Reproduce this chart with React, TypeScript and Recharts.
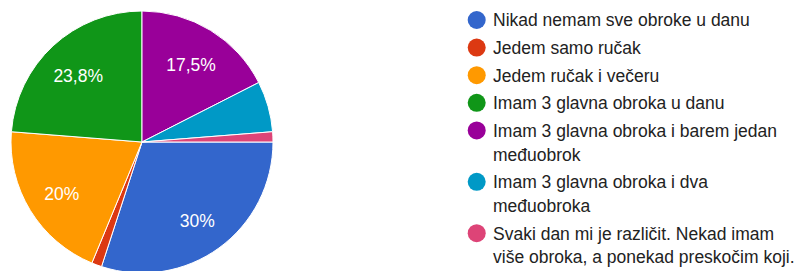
import React from 'react';
import { PieChart, Pie, Cell, Legend } from 'recharts';

const categories = [
  'Nikad nemam sve obroke u danu',
  'Jedem samo ručak',
  'Jedem ručak i večeru',
  'Imam 3 glavna obroka u danu',
  'Imam 3 glavna obroka i barem jedan međuobrok',
  'Imam 3 glavna obroka i dva međuobroka',
  'Svaki dan mi je različit. Nekad imam više obroka, a ponekad preskočim koji.',
];
const counts = [24, 1, 16, 19, 14, 5, 1];
const colors = ['#3366cc', '#dc3912', '#ff9900', '#109618', '#990099', '#0099c6', '#dd4477'];
const legendLines = [
  ['Nikad nemam sve obroke u danu'],
  ['Jedem samo ručak'],
  ['Jedem ručak i večeru'],
  ['Imam 3 glavna obroka u danu'],
  ['Imam 3 glavna obroka i barem jedan', 'međuobrok'],
  ['Imam 3 glavna obroka i dva', 'međuobroka'],
  ['Svaki dan mi je različit. Nekad imam', 'više obroka, a ponekad preskočim koji.'],
];

const data = categories.map((name, i) => ({ name, value: counts[i] }));

const FONT = "Arial, 'Liberation Sans', sans-serif";
const RAD = Math.PI / 180;

const renderLabel = (props: any) => {
  const { cx, cy, midAngle, percent } = props;
  if (percent < 0.1) return null;
  const r = 94;
  const x = cx + r * Math.cos(-midAngle * RAD);
  const y = cy + r * Math.sin(-midAngle * RAD) + 3;
  let txt = (percent * 100).toFixed(1);
  if (txt.endsWith('.0')) txt = txt.slice(0, -2);
  txt = txt.replace('.', ',') + '%';
  return (
    <text x={x} y={y} fill="#ffffff" fontSize={17.5} fontFamily={FONT} textAnchor="middle" dominantBaseline="central">
      {txt}
    </text>
  );
};

const renderLegend = (props: any) => {
  const payload = props.payload || [];
  const items: any[] = [];
  let y = 20;
  categories.forEach((name, i) => {
    const p = payload.find((q: any) => q.value === name);
    const color = (p && p.color) || colors[i];
    const lines = legendLines[i];
    items.push(
      <g key={i}>
        <circle cx={26.7} cy={y} r={9} fill={color} />
        {lines.map((ln, j) => (
          <text key={j} x={43} y={y + j * 23.8 + 6.3} fill="#222222" fontSize={17.5} fontFamily={FONT}>
            {ln}
          </text>
        ))}
      </g>
    );
    y += (lines.length - 1) * 23.8 + 27.6;
  });
  return (
    <svg width={345} height={271} style={{ display: 'block' }}>
      {items}
    </svg>
  );
};

export default function App() {
  return (
    <div style={{ position: 'absolute', left: 0, top: 0, width: 795, height: 271, background: '#ffffff' }}>
      <PieChart width={795} height={271} margin={{ top: 0, right: 0, bottom: 0, left: 0 }}>
        <Pie
          data={data}
          dataKey="value"
          nameKey="name"
          cx={142}
          cy={142}
          outerRadius={131}
          startAngle={0}
          endAngle={-360}
          stroke="#ffffff"
          strokeWidth={1}
          label={renderLabel}
          labelLine={false}
          isAnimationActive={false}
        >
          {data.map((d, i) => (
            <Cell key={i} fill={colors[i]} />
          ))}
        </Pie>
        <Legend
          content={renderLegend}
          wrapperStyle={{ position: 'absolute', left: 450, top: 0, width: 345, height: 271 }}
        />
      </PieChart>
    </div>
  );
}
